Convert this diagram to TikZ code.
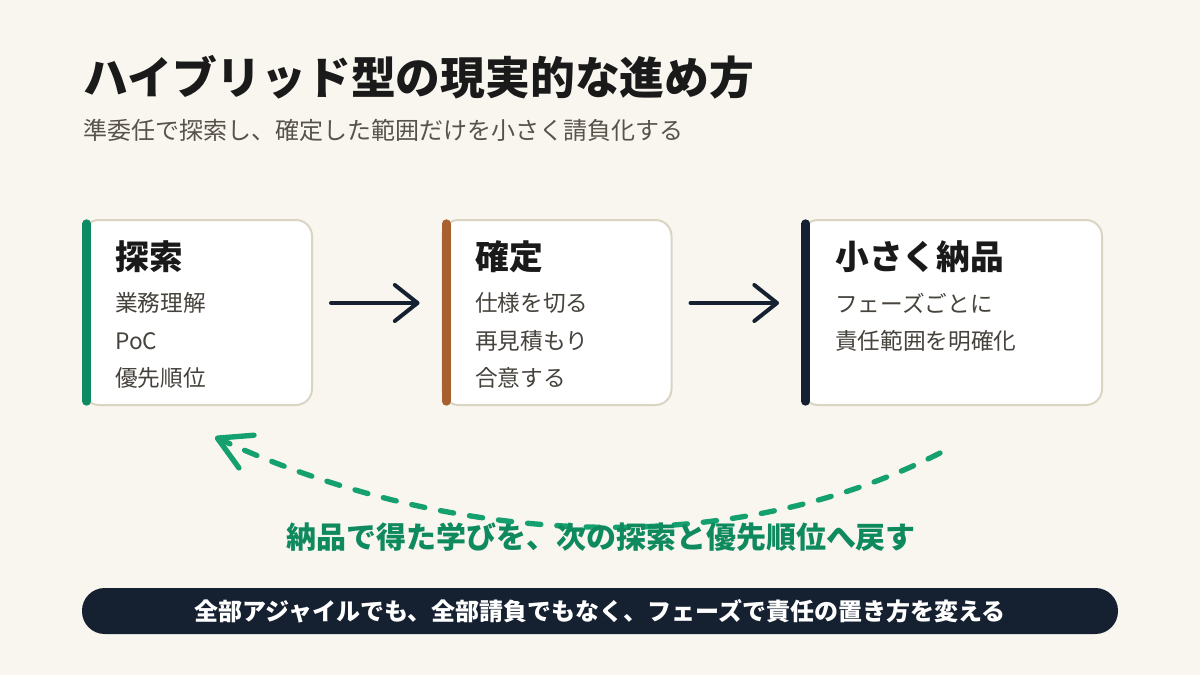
\documentclass[tikz,border=0pt]{standalone}
\usepackage{fontspec}
\setmainfont{Noto Sans CJK JP}
\usetikzlibrary{arrows.meta, positioning}

\definecolor{bgcream}{HTML}{F8F6EF}
\definecolor{inkdark}{HTML}{1A1A1A}
\definecolor{inkgray}{HTML}{57524A}
\definecolor{itemgray}{HTML}{46423C}
\definecolor{cardline}{HTML}{DAD4C3}
\definecolor{bargreen}{HTML}{0E8A63}
\definecolor{barbrown}{HTML}{A8602F}
\definecolor{navy}{HTML}{152030}
\definecolor{loopgreen}{HTML}{14A06F}
\definecolor{labgreen}{HTML}{0F8A5F}

\begin{document}
\begin{tikzpicture}[
    x=0.75pt, y=-0.75pt,
    card/.style={draw=cardline, line width=1.5pt, fill=white, rounded corners=12pt,
                 minimum width=171.75pt, minimum height=138.75pt, inner sep=0pt},
    wide/.style={card, minimum width=225pt},
    bar/.style={line width=6.5pt, line cap=round},
    head/.style={anchor=west, inner sep=0pt, text=inkdark,
                 font=\fontsize{25.3}{30}\selectfont\bfseries},
    item/.style={anchor=west, inner sep=0pt, text=itemgray,
                 font=\fontsize{17}{20}\selectfont},
    flow/.style={line width=3pt, navy, line cap=round,
                 -{Straight Barb[length=17pt,width=27pt,line cap=round,line join=round]}},
    loop/.style={line width=4pt, loopgreen, line cap=round,
                 dash pattern=on 10pt off 12pt,
                 -{Straight Barb[length=24pt,width=27pt,line cap=round,line join=round]}},
  ]

  \path[use as bounding box, fill=bgcream] (0,0) rectangle (1200,675);

  %% ---- title ----------------------------------------------------------
  \node[anchor=west, inner sep=0pt, text=inkdark,
        font=\fontsize{33.6}{40}\selectfont\bfseries] (title) at (83,77)
        {ハイブリッド型の現実的な進め方};
  \node[anchor=west, inner sep=0pt, text=inkgray,
        font=\fontsize{18}{22}\selectfont] (sub) at (83,130)
        {準委任で探索し、確定した範囲だけを小さく請負化する};

  %% ---- three cards ------------------------------------------------------
  \node[card] (C1) at (197.5,312.5) {};
  \node[card] (C2) at (557,312.5) {};
  \node[wide] (C3) at (952,312.5) {};

  \draw[bar, bargreen] ([xshift=3.5pt,yshift=-3.5pt]C1.north west) -- ([xshift=3.5pt,yshift=3.5pt]C1.south west);
  \draw[bar, barbrown] ([xshift=3.5pt,yshift=-3.5pt]C2.north west) -- ([xshift=3.5pt,yshift=3.5pt]C2.south west);
  \draw[bar, navy]     ([xshift=3.5pt,yshift=-3.5pt]C3.north west) -- ([xshift=3.5pt,yshift=3.5pt]C3.south west);

  \node[head] (H1) at (115,257) {探索};
  \node[item] (I11) at (115,303) {業務理解};
  \node[item] (I12) at (115,341) {PoC};
  \node[item] (I13) at (115,378) {優先順位};

  \node[head] (H2) at (475,257) {確定};
  \node[item] (I21) at (475,303) {仕様を切る};
  \node[item] (I22) at (475,341) {再見積もり};
  \node[item] (I23) at (475,378) {合意する};

  \node[head] (H3) at (835,257) {小さく納品};
  \node[item] (I31) at (835,303) {フェーズごとに};
  \node[item] (I32) at (835,341) {責任範囲を明確化};

  %% ---- forward arrows ---------------------------------------------------
  \draw[flow, shorten <=13.5pt, shorten >=16.5pt] (C1.east |- I11) -- (C2.west |- I11);
  \draw[flow, shorten <=13.5pt, shorten >=16.5pt] (C2.east |- I11) -- (C3.west |- I11);

  %% ---- feedback loop ----------------------------------------------------
  \coordinate (from) at (940,453);
  \coordinate (back) at (215,437);
  \draw[loop] (from) .. controls (730,560) and (455,548) .. (back);

  \node[inner sep=0pt, text=labgreen, font=\fontsize{22.5}{27}\selectfont\bfseries]
    (learn) at (601,537) {納品で得た学びを、次の探索と優先順位へ戻す};

  %% ---- bottom banner ----------------------------------------------------
  \node[fill=navy, rounded corners=17pt, minimum width=777pt, minimum height=34.5pt,
        inner sep=0pt, text=white, font=\fontsize{18}{21}\selectfont\bfseries]
    (banner) at (600,611) {全部アジャイルでも、全部請負でもなく、フェーズで責任の置き方を変える};

\end{tikzpicture}
\end{document}
